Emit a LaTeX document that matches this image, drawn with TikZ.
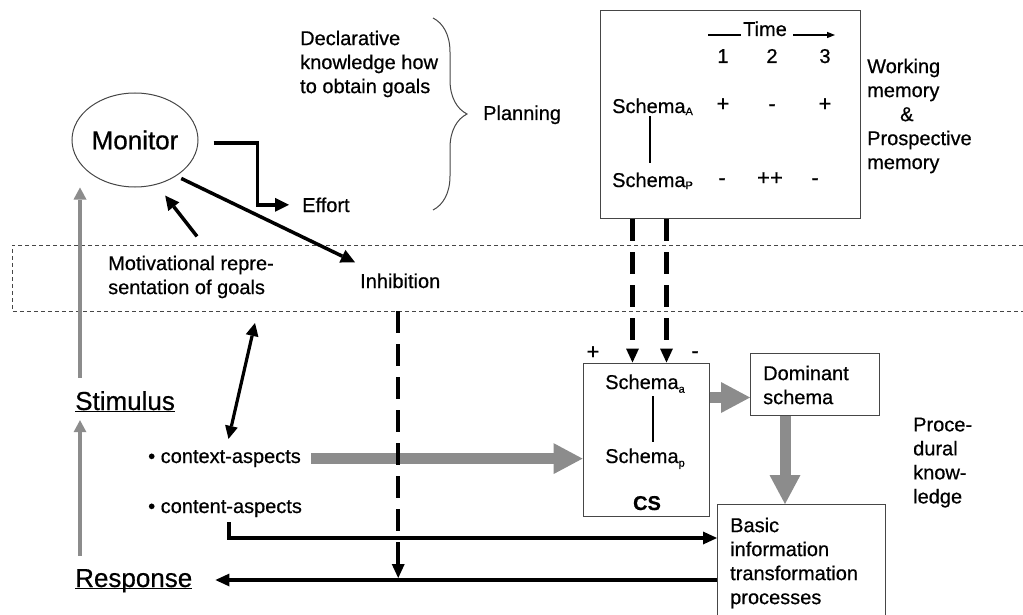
\documentclass[tikz,border=0pt]{standalone}
\usepackage{fontspec}
\setmainfont{Liberation Sans}[RawFeature={embolden=0.6}]
\usetikzlibrary{arrows.meta,shapes.geometric,decorations.pathreplacing}
\definecolor{arrowgray}{RGB}{140,140,140}
\definecolor{linegray}{RGB}{70,70,70}
% lowered small index after a word
\newcommand{\lowsub}[2][0.35ex]{\raisebox{-#1}{\fontsize{11}{11}\selectfont #2}}
% underline that ignores descenders
\newcommand{\flatul}[1]{\underline{\raisebox{0pt}[\height][0pt]{#1}}}

\begin{document}
\begin{tikzpicture}[x=1pt,y=-1pt,
  txt/.style={inner sep=0pt, font=\fontsize{20}{24}\selectfont, align=left},
  sign/.style={inner sep=0pt, font=\fontsize{22}{24}\selectfont},
  bigtxt/.style={inner sep=0pt, font=\fontsize{26}{30}\selectfont},
  box/.style={draw=linegray, line width=1pt, inner sep=0pt},
  thinline/.style={line width=1.2pt},
  blk/.style={line width=3.5pt, -{Triangle[length=14pt,width=14pt,line width=0pt]}},
  dblk/.style={line width=3.2pt, {Triangle[length=13pt,width=13pt,line width=0pt]}-{Triangle[length=13pt,width=13pt,line width=0pt]}},
  blkb/.style={line width=4pt, -{Triangle[length=14pt,width=13pt,line width=0pt]}},
  dsh/.style={line width=4.5pt, dash pattern=on 22pt off 11pt, -{Triangle[length=14pt,width=13pt,line width=0pt]}},
  garrow/.style={draw=arrowgray, line width=4.5pt, -{Triangle[length=12pt,width=13pt,line width=0pt]}},
  gthick/.style={draw=arrowgray, line width=11pt, -{Triangle[length=29pt,width=31pt,line width=0pt]}},
  band/.style={draw=linegray, line width=0.8pt, dash pattern=on 4pt off 3pt},
]
\useasboundingbox (0,0) rectangle (1023,615);

% ---------- goal band ----------
\coordinate (bandTR) at (1023,245);
\coordinate (bandBL) at (12,311);
\coordinate (bandBR) at (1023,311);
\coordinate (bandfoot) at (255,323);
\draw[band] (bandTR) -| (bandBL) -- (bandBR);

% ---------- upper left: monitor ----------
\node[draw=linegray, line width=1pt, ellipse, minimum width=126pt, minimum height=94pt,
      inner sep=0pt, font=\fontsize{26}{30}\selectfont] (monitor) at (135,140) {Monitor};
\node[txt, anchor=base west] (effort) at (302,212) {Effort};
\node[txt, anchor=base west] (inhib) at (360,288) {Inhibition};
\node[txt, anchor=north west] (motiv) at (108,255.4) {Motivational repre-\\sentation of goals};

% ---------- planning ----------
\node[txt, anchor=north west] (decl) at (300,30.4) {Declarative\\knowledge how\\to obtain goals};
\coordinate (braceT) at (433,18);
\coordinate (braceB) at (433,210);
\draw[draw=linegray, line width=1pt, decorate, decoration={brace, amplitude=34pt}] (braceT) -- (braceB);
\node[txt, anchor=base west] (plan) at (483,120) {Planning};

% ---------- working memory ----------
\node[box, anchor=north west, minimum width=260pt, minimum height=208pt] (wm) at (600,10) {};
\node[txt, anchor=base] (time) at (765,36) {Time};
\draw[thinline] ([xshift=-2pt,yshift=1pt]time.base west) -- ++(-33,0);
\draw[thinline, -{Triangle[length=8pt,width=6pt]}] ([xshift=6pt,yshift=1pt]time.base east) -- ++(42,0);
\node[txt, anchor=base] (t1) at (723,63) {1};
\node[txt, anchor=base] (t2) at (772,63) {2};
\node[txt, anchor=base] (t3) at (825,63) {3};
\node[txt, anchor=base west] (sA) at (612,113) {Schema\lowsub[0.2ex]{A}};
\node[sign, anchor=base] (a1) at (723,111) {+};
\node[sign, anchor=base] (a2) at (772,111) {-};
\node[sign, anchor=base] (a3) at (825,111) {+};
\node[txt, anchor=base west] (sP) at (612,187) {Schema\lowsub[0.2ex]{P}};
\node[sign, anchor=base] (p1) at (722,185) {-};
\node[sign, anchor=base] (p2) at (770,185) {++};
\node[sign, anchor=base] (p3) at (815,185) {-};
\draw[thinline] ([xshift=38pt,yshift=-1pt]sA.south west) -- ([xshift=38pt,yshift=9pt]sP.north west);
\node[txt, anchor=north west] (wmlab) at (867,58.4)
  {Working\\memory\\\hspace*{33pt}\&\\Prospective\\memory};

% ---------- competing schemas ----------
\node[box, minimum width=126pt, minimum height=153pt] (cs) at (646,439.5) {};
\node[txt, anchor=base] (csa) at (645,389) {Schema\lowsub{a}};
\node[txt, anchor=base] (csp) at (645,463) {Schema\lowsub{p}};
\node[txt, anchor=base] (cslab) at (647,510) {\textbf{CS}};
\draw[thinline] ([xshift=8pt,yshift=-3pt]csa.south) -- ([xshift=8pt,yshift=6pt]csp.north);
\node[sign, anchor=base] (plus) at (593,359) {+};
\node[sign, anchor=base] (minus) at (695,358) {-};

\node[box, anchor=north west, minimum width=129pt, minimum height=62pt] (dom) at (750,353) {};
\node[txt, anchor=north west] (domtxt) at (763,365.4) {Dominant\\schema};
\node[box, anchor=north west, minimum width=168pt, minimum height=130pt] (basic) at (717,504) {};
\node[txt, anchor=north west] (basictxt) at (730,517.4) {Basic\\information\\transformation\\processes};
\node[txt, anchor=north west] (proc) at (913,417.4) {Proce-\\dural\\know-\\ledge};

% ---------- stimulus side ----------
\node[bigtxt, anchor=base west] (stim) at (75,410) {\flatul{Stimulus}};
\node[bigtxt, anchor=base west] (resp) at (75,587) {\flatul{Response}};
\node[txt, anchor=base west] (ctx) at (148,463) {\textbullet\ context-aspects};
\node[txt, anchor=base west] (cnt) at (148,513) {\textbullet\ content-aspects};

% ---------- grey flow ----------
\coordinate (sx) at ([xshift=5pt,yshift=13pt]stim.north west);
\coordinate (rx) at ([xshift=5pt,yshift=13pt]resp.north west);
\coordinate (stimfoot) at ([yshift=-8pt]stim.south);
\draw[garrow] (sx) -- (sx |- monitor.south);
\draw[garrow] (rx) -- (rx |- stimfoot);
\draw[gthick] ([xshift=10pt]ctx.east) -- (ctx.east -| cs.west);
\coordinate (domin) at ([yshift=-13pt]dom.west);
\draw[gthick] (domin -| cs.east) -- (domin);
\coordinate (domout) at ([xshift=35pt]dom.south west);
\draw[gthick] (domout) -- (domout |- basic.north);

% ---------- black connectors ----------
\draw[blk, shorten >=13pt] ([xshift=15pt,yshift=-3pt]monitor.east) -- ++(44,0) |- (effort.west);
\draw[blk] ([xshift=4pt,yshift=-3pt]monitor.-40) -- ([xshift=-5pt,yshift=11pt]inhib.north west);
\draw[blk] ([xshift=6pt,yshift=19pt]motiv.north) -- ([xshift=5pt,yshift=-12pt]monitor.-60);
\draw[dblk] (bandfoot) -- ([xshift=4pt,yshift=11pt]ctx.north);

\coordinate (csA) at ([xshift=50pt]cs.north west);
\coordinate (csB) at ([xshift=84pt]cs.north west);
\draw[dsh] (csA |- wm.south) -- (csA);
\draw[dsh] (csB |- wm.south) -- (csB);

\coordinate (outR) at ([yshift=-76pt]basic.north west);
\coordinate (resptip) at ([xshift=23pt]resp.east);
\draw[blkb] ([xshift=4pt,yshift=-5pt]cnt.south) |- ([yshift=-34pt]basic.north west);
\draw[blkb] (outR) -- (outR -| resptip);
\coordinate (inhx) at ([xshift=-2pt]inhib.south);
\draw[dsh, shorten >=2pt] (inhx |- bandBL) -- (inhx |- outR);
\end{tikzpicture}
\end{document}
